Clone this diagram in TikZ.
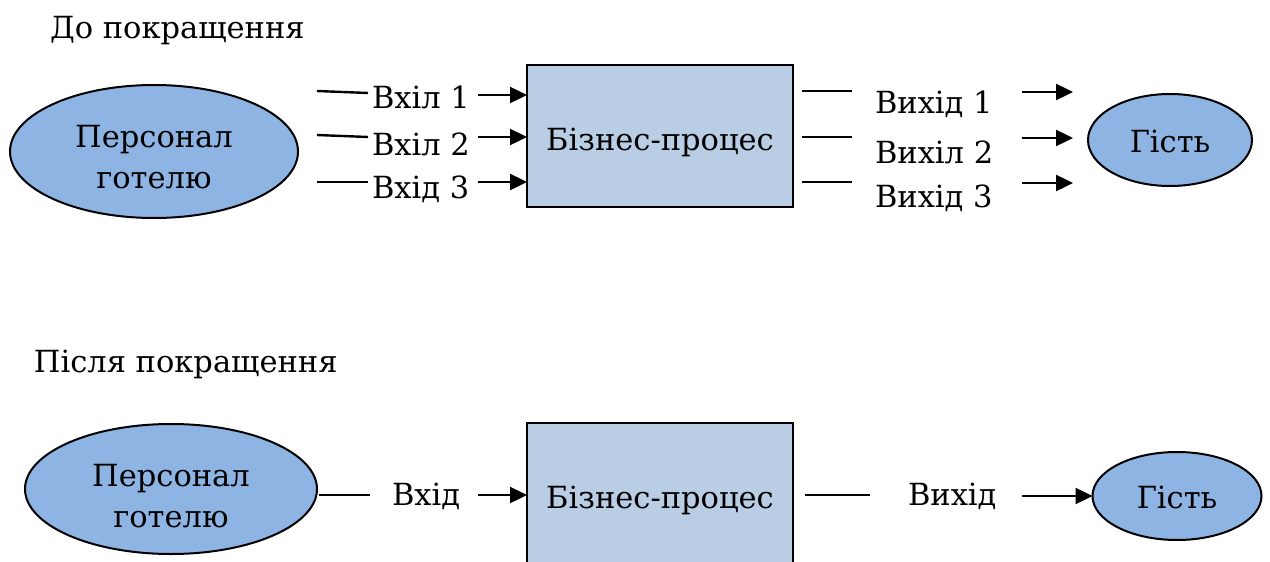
\documentclass[tikz,border=0pt]{standalone}
\usepackage{fontspec}
\setmainfont{DejaVu Serif}
\usetikzlibrary{shapes.geometric,arrows.meta}
\definecolor{ellfill}{RGB}{141,180,226}
\definecolor{boxfill}{RGB}{185,205,229}
\begin{document}
\begin{tikzpicture}[x=1pt,y=-1pt,
  every node/.style={font=\rmfamily\fontsize{30.5}{41}\selectfont, inner sep=0pt, outer sep=0pt},
  oval/.style={ellipse, draw=black, line width=2pt, fill=ellfill},
  procbox/.style={rectangle, draw=black, line width=2.4pt, fill=boxfill},
  txt/.style={align=center},
  lab/.style={anchor=base west},
  ln/.style={line width=2.4pt},
  arr/.style={line width=2.4pt, -{Triangle[length=17pt,width=16pt]}}
]
\useasboundingbox (0,0) rectangle (1270,562);
\clip (0,0) rectangle (1270,562);

% ---------- Before ----------
\node[anchor=base west] (t1) at (50,38) {До покращення};

\node[oval, minimum width=288pt, minimum height=133pt] (p1) at (154,151.5) {};
\node[txt] (p1t) at (154,157) {Персонал\\готелю};

\node[procbox, minimum width=266pt, minimum height=142pt] (b1) at (660,136) {};
\node (b1t) at (660,142) {Бізнес-процес};

\node[oval, minimum width=164pt, minimum height=92pt] (g1) at (1170,140) {};
\node (g1t) at (1170,141) {Гість};

% input labels
\node[lab] (i1) at (372,108) {Вхіл 1};
\node[lab] (i2) at (372,155) {Вхіл 2};
\node[lab] (i3) at (372,198) {Вхід 3};

\coordinate (i1a) at (317,91);  \coordinate (i1b) at (368,93);
\coordinate (i2a) at (317,135); \coordinate (i2b) at (368,137);
\coordinate (i3a) at (317,182); \coordinate (i3b) at (368,182);
\coordinate (i1c) at (478,95);
\coordinate (i2c) at (478,137);
\coordinate (i3c) at (478,182);

\draw[ln] (i1a) -- (i1b);
\draw[ln] (i2a) -- (i2b);
\draw[ln] (i3a) -- (i3b);
\draw[arr] (i1c) -- (b1.west |- i1c);
\draw[arr] (i2c) -- (b1.west |- i2c);
\draw[arr] (i3c) -- (b1.west |- i3c);

% output labels
\node[lab] (o1) at (875,113) {Вихід 1};
\node[lab] (o2) at (875,163) {Вихіл 2};
\node[lab] (o3) at (875,207) {Вихід 3};

\coordinate (o1a) at (802,91);  \coordinate (o1b) at (852,91);
\coordinate (o2a) at (802,137); \coordinate (o2b) at (852,137);
\coordinate (o3a) at (802,182); \coordinate (o3b) at (852,182);
\coordinate (o1c) at (1022,92);  \coordinate (o1d) at (1073,92);
\coordinate (o2c) at (1022,138); \coordinate (o2d) at (1073,138);
\coordinate (o3c) at (1022,183); \coordinate (o3d) at (1073,183);

\draw[ln] (o1a) -- (o1b);
\draw[ln] (o2a) -- (o2b);
\draw[ln] (o3a) -- (o3b);
\draw[arr] (o1c) -- (o1d);
\draw[arr] (o2c) -- (o2d);
\draw[arr] (o3c) -- (o3d);

% ---------- After ----------
\node[anchor=base west] (t2) at (34,372) {Після покращення};

\node[oval, minimum width=292pt, minimum height=130pt] (p2) at (171,489) {};
\node[txt] (p2t) at (171,496) {Персонал\\готелю};

\node[procbox, minimum width=266pt, minimum height=142pt] (b2) at (660,494) {};
\node (b2t) at (660,500) {Бізнес-процес};

\node[oval, minimum width=169pt, minimum height=88pt] (g2) at (1177,496) {};
\node (g2t) at (1177,497) {Гість};

\node[lab] (i4) at (392,505) {Вхід};
\node[lab] (o4) at (908,505) {Вихід};

\coordinate (i4a) at (319,495);
\coordinate (i4b) at (370,495);
\coordinate (i4c) at (478,495);
\coordinate (o4a) at (805,495);
\coordinate (o4b) at (870,495);
\coordinate (o4c) at (1022,496);

\draw[ln] (i4a) -- (i4b);
\draw[arr] (i4c) -- (b2.west |- i4c);
\draw[ln] (o4a) -- (o4b);
\draw[arr] (o4c) -- (g2.west);
\end{tikzpicture}
\end{document}
